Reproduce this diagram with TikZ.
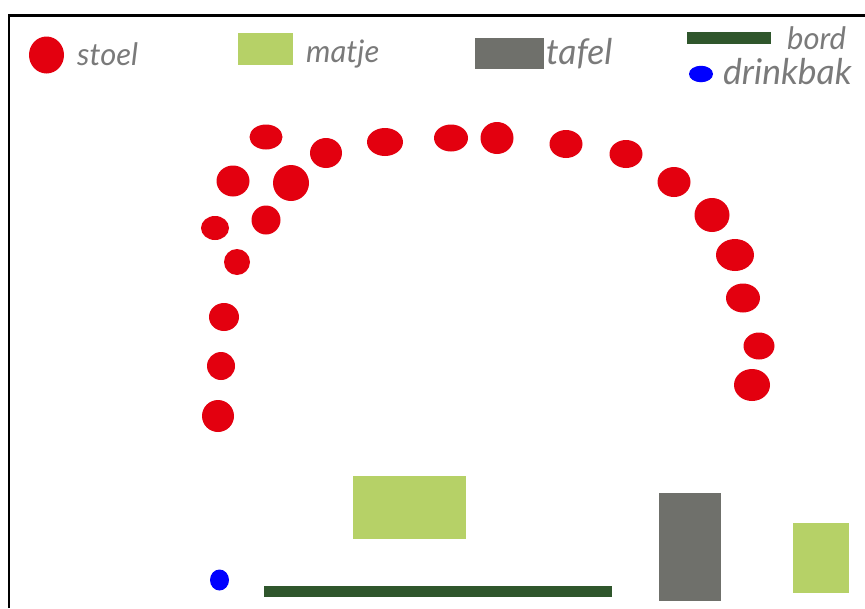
\documentclass[tikz,border=0pt]{standalone}
\usepackage{fontspec}
\setmainfont{Lato}
\usetikzlibrary{shapes.geometric}
\definecolor{stoelred}{HTML}{E3000F}
\definecolor{matjegreen}{HTML}{B6D167}
\definecolor{tafelgray}{HTML}{6F706B}
\definecolor{bordgreen}{HTML}{2F562C}
\definecolor{labelgray}{HTML}{7A7A7A}

\begin{document}
\begin{tikzpicture}[
    x=1pt, y=-1pt,
    stoel/.style={ellipse, fill=stoelred, inner sep=0pt},
    drinkbak/.style={ellipse, fill=blue, inner sep=0pt},
    matje/.style={rectangle, fill=matjegreen, inner sep=0pt},
    tafel/.style={rectangle, fill=tafelgray, inner sep=0pt},
    bord/.style={rectangle, fill=bordgreen, inner sep=0pt},
    legend/.style={text=labelgray, anchor=base west, font=\itshape\fontsize{31}{33}\selectfont, inner sep=0pt},
    legendwide/.style={legend, font=\itshape\fontsize{35.5}{37}\selectfont}
]
\useasboundingbox (0,0) rectangle (865,608);

% Frame
\coordinate (framebl) at (9,608);
\coordinate (frametl) at (9,15.5);
\coordinate (frametr) at (865,15.5);
\draw[line width=2.2pt, line join=miter] (framebl) -- (frametl) -- (frametr);

% Legend
\node[stoel, minimum width=35pt, minimum height=37pt] (keystoel) at (46.5,55) {};
\node[legend] (txtstoel) at (77,65) {stoel};
\node[matje, minimum width=55pt, minimum height=32pt] (keymatje) at (265.5,49) {};
\node[legend] (txtmatje) at (306,62) {matje};
\node[tafel, minimum width=69pt, minimum height=31pt] (keytafel) at (509.5,53.5) {};
\node[legendwide] (txttafel) at (546,64) {tafel};
\node[bord, minimum width=84pt, minimum height=12pt] (keybord) at (729,38) {};
\node[legend] (txtbord) at (787,49) {bord};
\node[drinkbak, minimum width=24pt, minimum height=16.5pt] (keydrink) at (701,74) {};
\node[legendwide] (txtdrink) at (723,84) {drinkbak};

% Chairs
\node[stoel, minimum width=33pt, minimum height=25pt] (s1) at (266,137) {};
\node[stoel, minimum width=33pt, minimum height=31pt] (s2) at (233,181) {};
\node[stoel, minimum width=32pt, minimum height=30pt] (s3) at (326,153) {};
\node[stoel, minimum width=36pt, minimum height=36pt] (s4) at (291,183) {};
\node[stoel, minimum width=36pt, minimum height=28pt] (s5) at (385,142) {};
\node[stoel, minimum width=34pt, minimum height=27pt] (s6) at (451,138) {};
\node[stoel, minimum width=33pt, minimum height=32pt] (s7) at (497,138) {};
\node[stoel, minimum width=33pt, minimum height=28pt] (s8) at (566,144) {};
\node[stoel, minimum width=33pt, minimum height=28pt] (s9) at (626,154) {};
\node[stoel, minimum width=33pt, minimum height=30pt] (s10) at (674,182) {};
\node[stoel, minimum width=35pt, minimum height=34pt] (s11) at (712,215) {};
\node[stoel, minimum width=38pt, minimum height=32pt] (s12) at (735,255) {};
\node[stoel, minimum width=34pt, minimum height=29pt] (s13) at (743,298) {};
\node[stoel, minimum width=31pt, minimum height=27pt] (s14) at (759,346) {};
\node[stoel, minimum width=36pt, minimum height=32pt] (s15) at (752,385) {};
\node[stoel, minimum width=29pt, minimum height=29pt] (s16) at (266,220) {};
\node[stoel, minimum width=28pt, minimum height=24pt] (s17) at (215,228) {};
\node[stoel, minimum width=26pt, minimum height=26pt] (s18) at (237,262) {};
\node[stoel, minimum width=30pt, minimum height=28pt] (s19) at (224,317) {};
\node[stoel, minimum width=28pt, minimum height=28pt] (s20) at (221,366) {};
\node[stoel, minimum width=32pt, minimum height=32pt] (s21) at (218,416) {};

% Room
\node[matje, minimum width=113pt, minimum height=63pt] (matje1) at (409.5,507.5) {};
\node[matje, minimum width=56pt, minimum height=70pt] (matje2) at (821,558) {};
\node[tafel, minimum width=62pt, minimum height=108pt] (tafel1) at (690,547) {};
\node[bord, minimum width=348pt, minimum height=11pt] (bord1) at (438,591.5) {};
\node[drinkbak, minimum width=19pt, minimum height=21pt] (drink1) at (219.5,580) {};

\end{tikzpicture}
\end{document}
